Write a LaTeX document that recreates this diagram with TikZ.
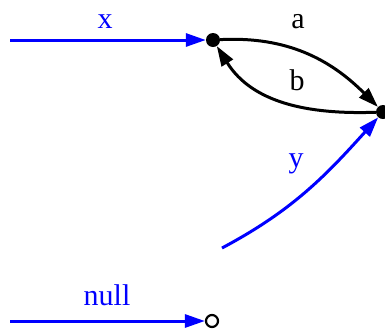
\documentclass[tikz,border=0pt]{standalone}
\usepackage{fontspec}
\setmainfont{Liberation Serif}
\usetikzlibrary{arrows.meta}
\tikzset{
  lbl/.style={anchor=base, inner sep=0pt, font=\fontsize{30}{32}\selectfont},
  dot/.style={circle, fill=black, minimum size=14pt, inner sep=0pt},
  odot/.style={circle, draw=black, line width=2.2pt, minimum size=12pt, inner sep=0pt},
  edge/.style={line width=3pt, -{Triangle[length=20pt,width=13pt]}},
  bedge/.style={edge, blue},
}
\begin{document}
\begin{tikzpicture}[x=1pt,y=-1pt]
\useasboundingbox (0,0) rectangle (385,333);
\node[dot] (n1) at (213,40) {};
\node[dot] (n2) at (383,112) {};
\node[odot] (n3) at (212,321) {};
\coordinate (xs) at (10,40);
\coordinate (ys) at (222,248);
\coordinate (ns) at (10,321);
\draw[bedge] (xs) -- (n1);
\draw[bedge] (ns) -- (n3);
\draw[bedge] (ys) to[out=28, in=-132] (n2);
\draw[edge] (n1) to[out=3, in=135] (n2);
\draw[edge] (n2) to[out=182, in=-58] (n1);
\node[lbl, blue] (lx) at (105,28) {x};
\node[lbl, blue] (ly) at (296,167) {y};
\node[lbl, blue] (ln) at (107,305) {null};
\node[lbl] (la) at (298,28) {a};
\node[lbl] (lb) at (297,90) {b};
\end{tikzpicture}
\end{document}
